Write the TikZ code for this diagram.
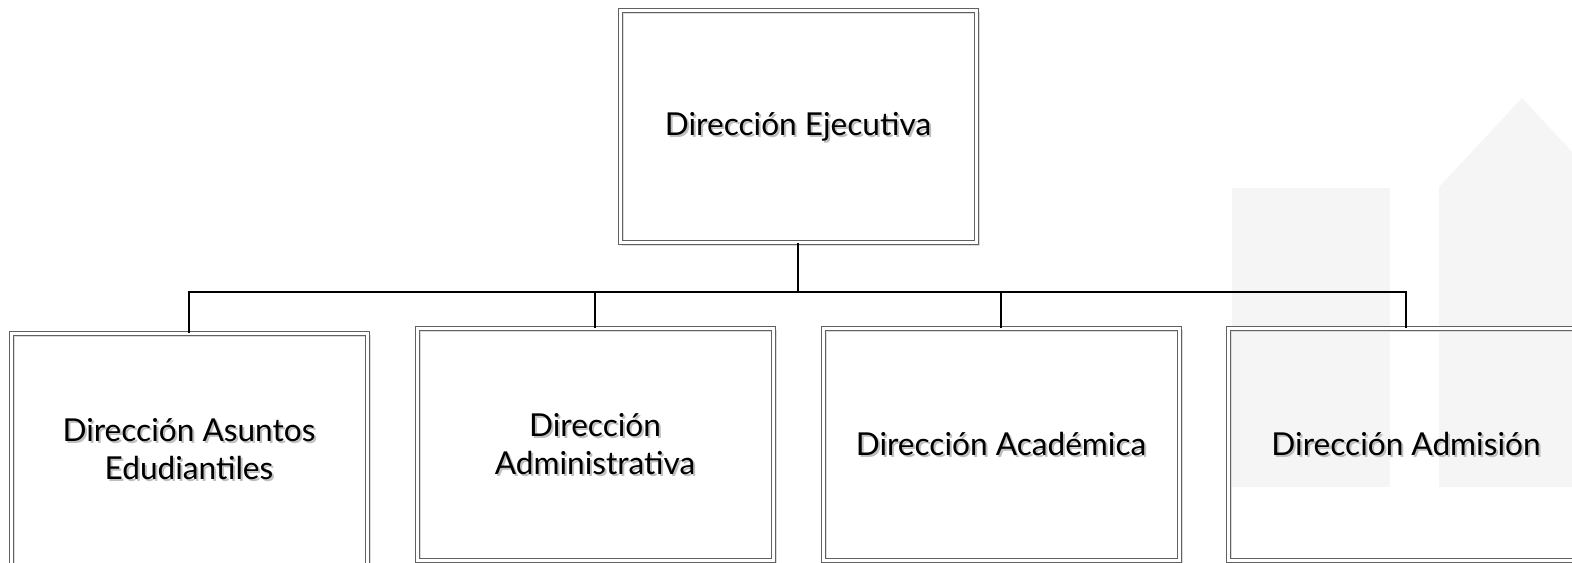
\documentclass[tikz,border=0pt]{standalone}
\usepackage{fontspec}
\setmainfont{Lato}
\pgfdeclarelayer{background}
\pgfsetlayers{background,main}
\begin{document}
\begin{tikzpicture}[x=0.5pt,y=-0.5pt,
  orgbox/.style={draw=black!62, line width=0.5pt, double=white, double distance=1.5pt,
    minimum width=178pt, minimum height=116pt, inner sep=0pt, outer sep=0pt},
  orgtext/.style={align=center, font=\fontsize{15.8}{19}\selectfont, text=black},
  txtshadow/.style={orgtext, text=black!25},
  boxshadow/.style={draw=black!14, line width=1pt},
  conn/.style={draw=black, line width=0.85pt},
  watermark/.style={fill=black!4, draw=none}]
\useasboundingbox (0,0) rectangle (1572,562);
% positions
\coordinate (ptop) at (798,126.5);
\coordinate (p1) at (189,449);
\coordinate (p2) at (595,444);
\coordinate (p3) at (1001,444);
\coordinate (p4) at (1406,444);
\coordinate (bus) at (798,292);
% boxes
\node[orgbox] (top) at (ptop) {};
\node[orgbox] (b1) at (p1) {};
\node[orgbox] (b2) at (p2) {};
\node[orgbox] (b3) at (p3) {};
\node[orgbox] (b4) at (p4) {};
\begin{pgfonlayer}{background}
  % watermark shapes
  \fill[watermark] (1232,188) rectangle (1390,487);
  \fill[watermark] (1439,487) -- (1439,187) -- (1522,98) -- (1605,187) -- (1605,487) -- cycle;
  % box shadows
  \foreach \n in {top,b1,b2,b3,b4}{
    \draw[boxshadow] ([shift={(2.5,2.5)}]\n.north west) rectangle ([shift={(2.5,2.5)}]\n.south east);
  }
  % text shadows
  \node[txtshadow] (s0) at ([shift={(2,2)}]ptop) {Dirección Ejecutiva};
  \node[txtshadow] (s1) at ([shift={(2,2)}]p1) {Dirección Asuntos\\Edudiantiles};
  \node[txtshadow] (s2) at ([shift={(2,2)}]p2) {Dirección\\Administrativa};
  \node[txtshadow] (s3) at ([shift={(2,2)}]p3) {Dirección Académica};
  \node[txtshadow] (s4) at ([shift={(2,2)}]p4) {Dirección Admisión};
\end{pgfonlayer}
% texts
\node[orgtext] (t0) at (ptop) {Dirección Ejecutiva};
\node[orgtext] (t1) at (p1) {Dirección Asuntos\\Edudiantiles};
\node[orgtext] (t2) at (p2) {Dirección\\Administrativa};
\node[orgtext] (t3) at (p3) {Dirección Académica};
\node[orgtext] (t4) at (p4) {Dirección Admisión};
% connectors
\draw[conn] (top.south) -- (bus);
\draw[conn] (b1.north) -- (b1.north |- bus) -- (b4.north |- bus) -- (b4.north);
\draw[conn] (b2.north) -- (b2.north |- bus);
\draw[conn] (b3.north) -- (b3.north |- bus);
\end{tikzpicture}
\end{document}
